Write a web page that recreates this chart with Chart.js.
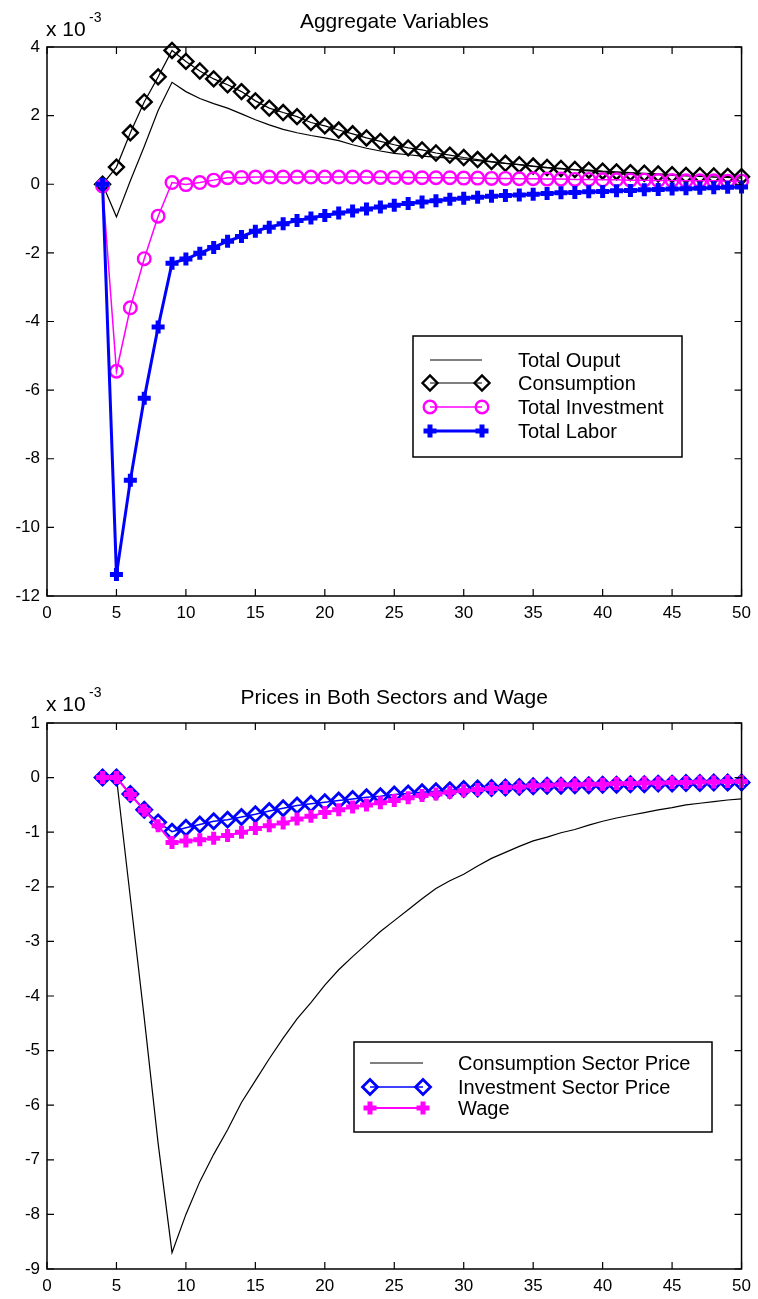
<!DOCTYPE html>
<html>
<head>
<meta charset="utf-8">
<title>Aggregate Variables / Prices</title>
<script src="https://cdn.jsdelivr.net/npm/chart.js@4.4.1/dist/chart.umd.min.js"></script>
<style>
  html, body { margin: 0; padding: 0; background: #fff; }
  .panel { position: absolute; left: 0; width: 758px; }
  #top { top: 0; height: 650px; }
  #bottom { top: 660px; height: 639px; }
</style>
</head>
<body>
<div class="panel" id="top"><canvas id="aggChart" width="758" height="650"></canvas></div>
<div class="panel" id="bottom"><canvas id="priceChart" width="758" height="639"></canvas></div>
<script>
// ─── Data (values in units of 1e-3) ───────────────────────
const periods = [4, 5, 6, 7, 8, 9, 10, 11, 12, 13, 14, 15, 16, 17, 18, 19, 20, 21, 22, 23, 24, 25, 26, 27,
  28, 29, 30, 31, 32, 33, 34, 35, 36, 37, 38, 39, 40, 41, 42, 43, 44, 45, 46, 47, 48, 49, 50];
const xTicks = [0, 5, 10, 15, 20, 25, 30, 35, 40, 45, 50];
const aggTicks = [-12, -10, -8, -6, -4, -2, 0, 2, 4];
const priceTicks = [-9, -8, -7, -6, -5, -4, -3, -2, -1, 0, 1];

const totalOutput = [0, -0.95, 0.1, 1.1, 2.15, 2.97, 2.7, 2.5, 2.35, 2.22, 2.05, 1.88, 1.73, 1.6, 1.5, 1.42,
  1.35, 1.27, 1.15, 1.05, 0.97, 0.9, 0.86, 0.82, 0.79, 0.76, 0.73, 0.69, 0.65, 0.61, 0.57, 0.52, 0.48, 0.45,
  0.42, 0.39, 0.36, 0.34, 0.32, 0.3, 0.28, 0.26, 0.24, 0.23, 0.21, 0.2, 0.18];
const consumption = [0, 0.5, 1.5, 2.4, 3.13, 3.9, 3.58, 3.3, 3.07, 2.9, 2.7, 2.43, 2.22, 2.09, 1.97, 1.8,
  1.7, 1.58, 1.47, 1.35, 1.25, 1.15, 1.06, 1.0, 0.91, 0.85, 0.78, 0.72, 0.66, 0.61, 0.57, 0.53, 0.49, 0.46,
  0.43, 0.41, 0.38, 0.36, 0.34, 0.32, 0.3, 0.28, 0.26, 0.25, 0.24, 0.23, 0.22];
const totalInvestment = [-0.05, -5.45, -3.6, -2.17, -0.93, 0.05, -0.01, 0.05, 0.12, 0.19, 0.2, 0.21, 0.21,
  0.21, 0.21, 0.21, 0.21, 0.21, 0.21, 0.21, 0.2, 0.2, 0.2, 0.19, 0.19, 0.19, 0.18, 0.18, 0.17, 0.17, 0.16,
  0.16, 0.15, 0.15, 0.14, 0.14, 0.13, 0.13, 0.12, 0.12, 0.11, 0.11, 0.1, 0.1, 0.1, 0.09, 0.09];
const totalLabor = [0, -11.37, -8.63, -6.24, -4.16, -2.3, -2.18, -2.01, -1.84, -1.66, -1.52, -1.37, -1.25,
  -1.15, -1.06, -0.98, -0.91, -0.84, -0.78, -0.72, -0.66, -0.61, -0.56, -0.52, -0.48, -0.44, -0.41, -0.38,
  -0.35, -0.33, -0.31, -0.29, -0.27, -0.25, -0.24, -0.22, -0.21, -0.19, -0.18, -0.16, -0.15, -0.14, -0.13,
  -0.12, -0.1, -0.09, -0.08];

const consSectorPrice = [0, 0, -2.2, -4.4, -6.7, -8.7, -8.0, -7.4, -6.9, -6.45, -5.95, -5.55, -5.15, -4.77,
  -4.42, -4.12, -3.8, -3.52, -3.28, -3.05, -2.82, -2.62, -2.42, -2.22, -2.03, -1.89, -1.77, -1.62, -1.48,
  -1.37, -1.26, -1.16, -1.09, -1.01, -0.95, -0.87, -0.8, -0.74, -0.69, -0.64, -0.59, -0.55, -0.5, -0.47,
  -0.44, -0.41, -0.39];
const invSectorPrice = [0, 0, -0.3, -0.59, -0.82, -0.99, -0.92, -0.86, -0.8, -0.77, -0.72, -0.67, -0.61,
  -0.56, -0.51, -0.48, -0.45, -0.42, -0.39, -0.36, -0.34, -0.31, -0.29, -0.27, -0.25, -0.23, -0.21, -0.2,
  -0.19, -0.18, -0.17, -0.16, -0.15, -0.15, -0.14, -0.14, -0.13, -0.13, -0.12, -0.12, -0.11, -0.11, -0.1,
  -0.1, -0.09, -0.09, -0.09];
const wage = [0, 0, -0.31, -0.6, -0.88, -1.19, -1.16, -1.14, -1.11, -1.06, -1.0, -0.93, -0.88, -0.83, -0.76,
  -0.71, -0.64, -0.59, -0.54, -0.5, -0.46, -0.42, -0.37, -0.33, -0.3, -0.27, -0.24, -0.22, -0.2, -0.18,
  -0.17, -0.15, -0.14, -0.13, -0.13, -0.12, -0.12, -0.11, -0.11, -0.1, -0.1, -0.09, -0.09, -0.08, -0.08,
  -0.07, -0.07];

// ─── Helpers ──────────────────────────────────────────────
const FONT = '"Liberation Sans", Arial, Helvetica, sans-serif';
const BLACK = '#000000', MAGENTA = '#ff00ff', BLUE = '#0000ff';

function pts(values) {
  return values.map((v, i) => ({ x: periods[i], y: v }));
}

function series(label, values, o) {
  return Object.assign({
    label,
    data: pts(values),
    borderColor: o.color,
    pointBorderColor: o.color,
    pointBackgroundColor: 'rgba(0,0,0,0)',
    borderWidth: 1.2,
    pointRadius: 0,
    pointBorderWidth: 2,
    pointStyle: 'circle',
    tension: 0,
    clip: false,
  }, o);
}

function drawMarker(ctx, ds, x, y) {
  if (!ds.pointRadius) return;
  ctx.strokeStyle = ds.pointBorderColor;
  ctx.fillStyle = 'rgba(0,0,0,0)';
  ctx.lineWidth = ds.pointBorderWidth;
  Chart.helpers.drawPoint(ctx, {
    pointStyle: ds.pointStyle, radius: ds.pointRadius, rotation: 0, borderWidth: ds.pointBorderWidth
  }, x, y);
}

// Matlab-like box: frame, inward ticks on all sides, title, exponent, legend
const matlabFrame = {
  id: 'matlabFrame',
  afterDraw(chart, args, o) {
    const { ctx, chartArea: a, scales: { x, y } } = chart;
    const tl = 7;
    ctx.save();
    ctx.strokeStyle = BLACK;
    ctx.lineWidth = 1.5;
    ctx.strokeRect(a.left, a.top, a.right - a.left, a.bottom - a.top);
    ctx.beginPath();
    x.ticks.forEach(t => {
      const px = x.getPixelForValue(t.value);
      ctx.moveTo(px, a.bottom); ctx.lineTo(px, a.bottom - tl);
      ctx.moveTo(px, a.top); ctx.lineTo(px, a.top + tl);
    });
    y.ticks.forEach(t => {
      const py = y.getPixelForValue(t.value);
      ctx.moveTo(a.left, py); ctx.lineTo(a.left + tl, py);
      ctx.moveTo(a.right, py); ctx.lineTo(a.right - tl, py);
    });
    ctx.lineWidth = 1.2;
    ctx.stroke();

    // title
    ctx.fillStyle = BLACK;
    ctx.textBaseline = 'middle';
    ctx.textAlign = 'center';
    ctx.font = `21px ${FONT}`;
    ctx.fillText(o.title, (a.left + a.right) / 2, o.titleY);

    // exponent "x 10^-3"
    ctx.textAlign = 'left';
    ctx.font = `21px ${FONT}`;
    ctx.fillText('x 10', 46, o.expY);
    ctx.font = `14px ${FONT}`;
    ctx.fillText('-3', 89, o.expY - 12);

    // legend
    const L = o.legend;
    ctx.fillStyle = '#fff';
    ctx.fillRect(L.x1, L.y1, L.x2 - L.x1, L.y2 - L.y1);
    ctx.strokeStyle = BLACK;
    ctx.lineWidth = 1.5;
    ctx.strokeRect(L.x1, L.y1, L.x2 - L.x1, L.y2 - L.y1);
    chart.data.datasets.forEach((ds, i) => {
      const ry = L.rows[i];
      ctx.beginPath();
      ctx.strokeStyle = ds.borderColor;
      ctx.lineWidth = ds.borderWidth;
      ctx.moveTo(L.s1, ry); ctx.lineTo(L.s2, ry);
      ctx.stroke();
      drawMarker(ctx, ds, L.s1, ry);
      drawMarker(ctx, ds, L.s2, ry);
      ctx.fillStyle = BLACK;
      ctx.font = `20px ${FONT}`;
      ctx.textAlign = 'left';
      ctx.textBaseline = 'middle';
      ctx.fillText(ds.label, L.tx, ry + 1);
    });
    ctx.restore();
  }
};

function chartOptions(yMin, yMax, yTickList, padTop, xHeight, frame) {
  const tickFont = { family: FONT, size: 17 };
  return {
    responsive: false,
    animation: false,
    events: [],
    layout: { padding: { left: 0, top: padTop, right: 12, bottom: 0 } },
    plugins: { legend: { display: false }, tooltip: { enabled: false }, matlabFrame: frame },
    scales: {
      x: {
        type: 'linear', min: 0, max: 50,
        afterBuildTicks: s => { s.ticks = xTicks.map(v => ({ value: v })); },
        ticks: { color: BLACK, font: tickFont, padding: 7, maxRotation: 0, autoSkip: false },
        grid: { display: false, drawTicks: false },
        border: { display: false },
        afterFit: s => { s.height = xHeight; }
      },
      y: {
        type: 'linear', min: yMin, max: yMax,
        afterBuildTicks: s => { s.ticks = yTickList.map(v => ({ value: v })); },
        ticks: { color: BLACK, font: tickFont, padding: 7, autoSkip: false },
        grid: { display: false, drawTicks: false },
        border: { display: false },
        afterFit: s => { s.width = 47; }
      }
    }
  };
}

// ─── Top: Aggregate Variables ─────────────────────────────
new Chart(document.getElementById('aggChart'), {
  type: 'line',
  data: {
    datasets: [
      series('Total Ouput', totalOutput, { color: BLACK, borderWidth: 1.2, order: 4 }),
      series('Consumption', consumption, { color: BLACK, borderWidth: 1.2, pointStyle: 'rectRot', pointRadius: 7.5, pointBorderWidth: 2.4, order: 3 }),
      series('Total Investment', totalInvestment, { color: MAGENTA, borderWidth: 1.5, pointStyle: 'circle', pointRadius: 6.3, pointBorderWidth: 2.4, order: 2 }),
      series('Total Labor', totalLabor, { color: BLUE, borderWidth: 3, pointStyle: 'cross', pointRadius: 6.5, pointBorderWidth: 5, order: 1 })
    ]
  },
  options: chartOptions(-12, 4, aggTicks, 47, 54, {
    title: 'Aggregate Variables', titleY: 22, expY: 30,
    legend: { x1: 413, y1: 336, x2: 682, y2: 457, rows: [360, 383, 407, 431], s1: 430, s2: 482, tx: 518 }
  }),
  plugins: [matlabFrame]
});

// ─── Bottom: Prices in Both Sectors and Wage ──────────────
new Chart(document.getElementById('priceChart'), {
  type: 'line',
  data: {
    datasets: [
      series('Consumption Sector Price', consSectorPrice, { color: BLACK, borderWidth: 1.2, order: 3 }),
      series('Investment Sector Price', invSectorPrice, { color: BLUE, borderWidth: 1.5, pointStyle: 'rectRot', pointRadius: 7.5, pointBorderWidth: 2.8, order: 2 }),
      series('Wage', wage, { color: MAGENTA, borderWidth: 2, pointStyle: 'cross', pointRadius: 6.5, pointBorderWidth: 5, order: 1 })
    ]
  },
  options: chartOptions(-9, 1, priceTicks, 63, 30, {
    title: 'Prices in Both Sectors and Wage', titleY: 38, expY: 45,
    legend: { x1: 354, y1: 382, x2: 712, y2: 472, rows: [403, 427, 448], s1: 370, s2: 423, tx: 458 }
  }),
  plugins: [matlabFrame]
});
</script>
</body>
</html>
